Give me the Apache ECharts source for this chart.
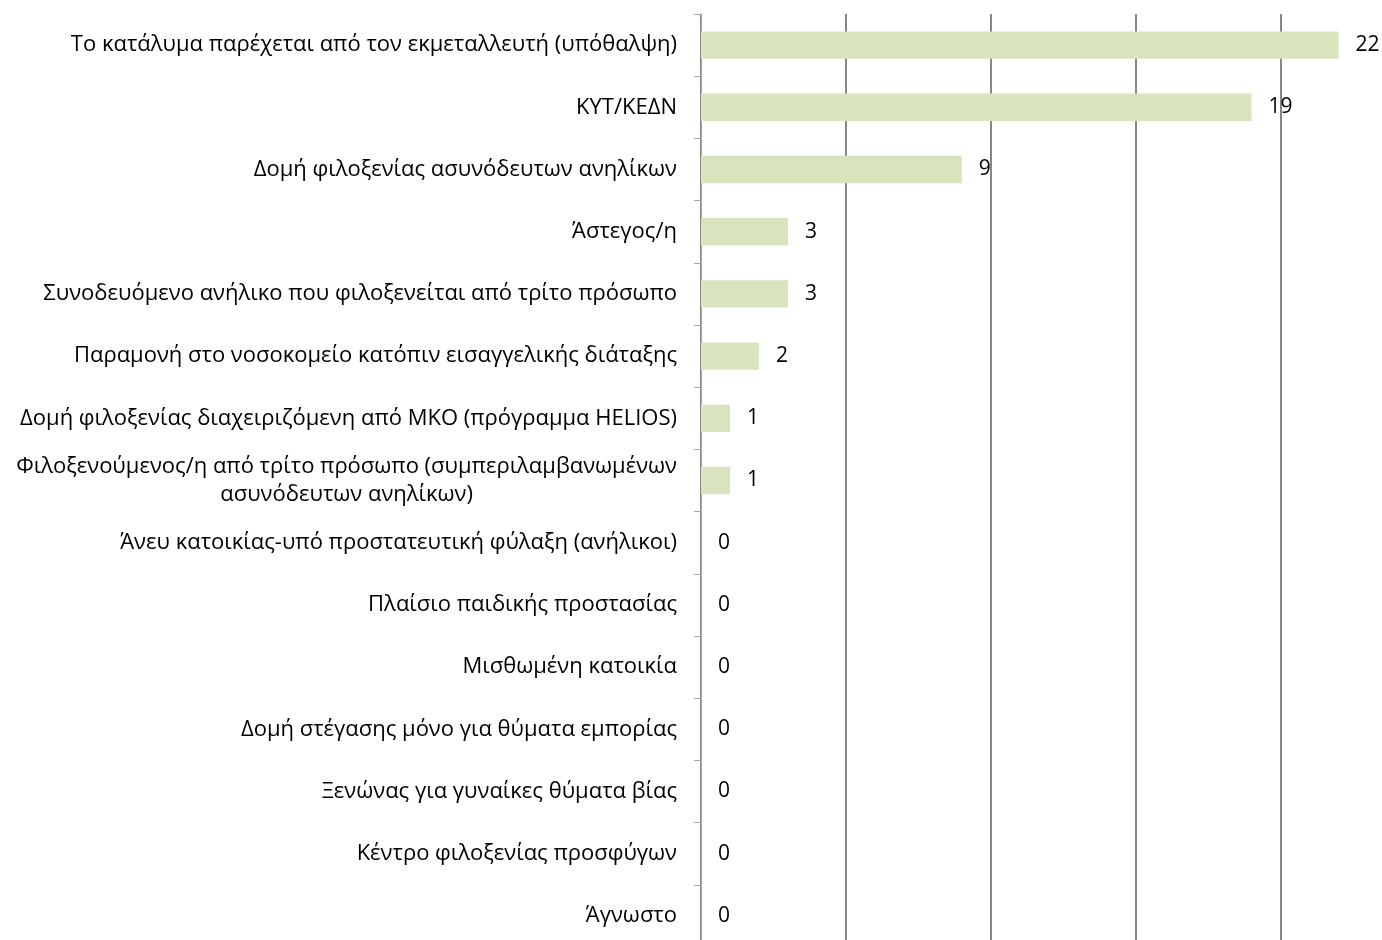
<!DOCTYPE html>
<html>
<head>
<meta charset="utf-8">
<script src="https://cdn.jsdelivr.net/npm/echarts@6/dist/echarts.min.js"></script>
<style>
html, body { margin: 0; padding: 0; background: #fff; overflow: hidden; }
/* το διάγραμμα συνεχίζει λίγο κάτω από το κάτω άκρο της εικόνας */
#chart { width: 1382px; height: 947px; }
</style>
</head>
<body>
<div id="chart"></div>
<script>
// κατηγορίες (από κάτω προς τα πάνω, όπως τις θέλει ο άξονας)
var categories = [
  'Άγνωστο',
  'Κέντρο φιλοξενίας προσφύγων',
  'Ξενώνας για γυναίκες θύματα βίας',
  'Δομή στέγασης μόνο για θύματα εμπορίας',
  'Μισθωμένη κατοικία',
  'Πλαίσιο παιδικής προστασίας',
  'Άνευ κατοικίας-υπό προστατευτική φύλαξη (ανήλικοι)',
  'Φιλοξενούμενος/η από τρίτο πρόσωπο (συμπεριλαμβανωμένων\nασυνόδευτων ανηλίκων)',
  'Δομή φιλοξενίας διαχειριζόμενη από ΜΚΟ (πρόγραμμα HELIOS)',
  'Παραμονή στο νοσοκομείο κατόπιν εισαγγελικής διάταξης',
  'Συνοδευόμενο ανήλικο που φιλοξενείται από τρίτο πρόσωπο',
  'Άστεγος/η',
  'Δομή φιλοξενίας ασυνόδευτων ανηλίκων',
  'ΚΥΤ/ΚΕΔΝ',
  'Το κατάλυμα παρέχεται από τον εκμεταλλευτή (υπόθαλψη)'
];
var values = [0, 0, 0, 0, 0, 0, 0, 1, 1, 2, 3, 3, 9, 19, 22];

var chart = echarts.init(document.getElementById('chart'));
var font = '"Open Sans", "Noto Sans", sans-serif';

chart.setOption({
  animation: false,
  grid: { left: 701, right: 0, top: 14, bottom: 0, containLabel: false },
  xAxis: {
    type: 'value',
    min: 0,
    max: 23.5,
    interval: 5,
    axisLine: { show: false },
    axisTick: { show: false },
    axisLabel: { show: false },
    splitLine: { show: true, showMaxLine: false, lineStyle: { color: '#878787', width: 2 } }
  },
  yAxis: {
    type: 'category',
    data: categories,
    axisLine: { show: true, lineStyle: { color: '#a6a6a6', width: 1 } },
    axisTick: { show: true, length: 7, lineStyle: { color: '#a6a6a6' } },
    axisLabel: {
      margin: 24,
      align: 'right',
      // οι γραμμές της ετικέτας με αλλαγή γραμμής κεντραρισμένες μεταξύ τους
      formatter: function (v) {
        return v.split('\n').map(function (l) { return '{c|' + l + '}'; }).join('\n');
      },
      rich: {
        c: {
          align: 'center',
          color: '#000',
          fontFamily: font,
          fontSize: 22,
          lineHeight: 28
        }
      }
    }
  },
  series: [{
    type: 'bar',
    data: values,
    barCategoryGap: '56%',
    itemStyle: { color: '#d7e4bd' },
    label: {
      show: true,
      position: 'right',
      distance: 17,
      color: '#000',
      fontFamily: font,
      fontSize: 21
    }
  }]
});
</script>
</body>
</html>
